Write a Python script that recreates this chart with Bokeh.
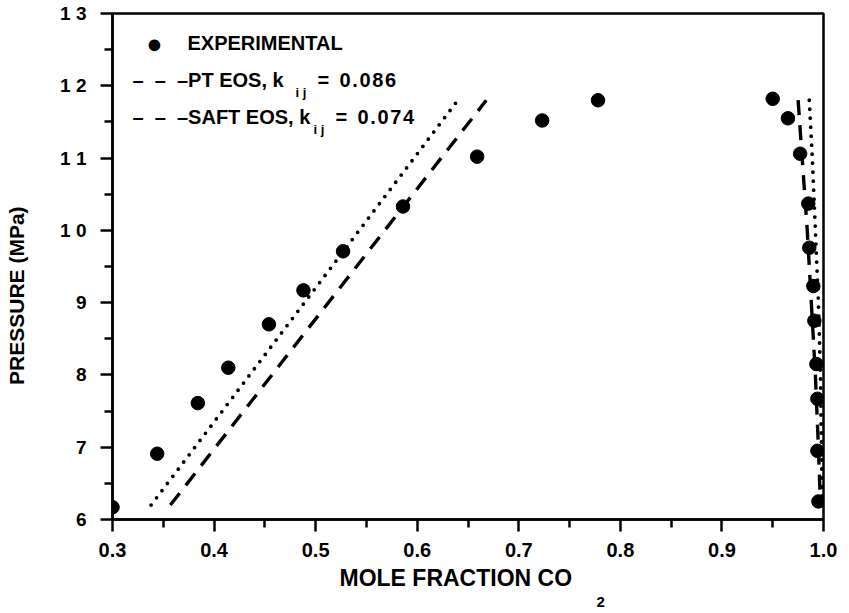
from bokeh.plotting import figure
from bokeh.models import Range1d, FixedTicker, Label, Title
from bokeh.embed import file_html
from bokeh.resources import INLINE

# Experimental CO2 mole fraction vs pressure (MPa)
x_exp = [0.300, 0.344, 0.384, 0.414, 0.454, 0.488, 0.527, 0.586, 0.659, 0.723, 0.778,
         0.950, 0.965, 0.977, 0.985, 0.986, 0.990, 0.991, 0.993, 0.994, 0.994, 0.995]
y_exp = [6.17, 6.91, 7.61, 8.10, 8.70, 9.17, 9.71, 10.33, 11.02, 11.52, 11.80,
         11.82, 11.55, 11.06, 10.37, 9.76, 9.23, 8.75, 8.15, 7.67, 6.95, 6.25]

# PT EOS (kij = 0.086): liquid and vapour branches
pt_liq_x = [0.338, 0.640]
pt_liq_y = [6.2, 11.8]
pt_vap_x = [0.986, 0.989, 0.992, 0.995, 0.997, 0.998, 0.999]
pt_vap_y = [11.8, 11.0, 10.0, 9.0, 8.0, 7.0, 6.2]

# SAFT EOS (kij = 0.074): liquid and vapour branches
saft_liq_x = [0.357, 0.668]
saft_liq_y = [6.2, 11.8]
saft_vap_x = [0.975, 0.979, 0.984, 0.988, 0.992, 0.995, 0.997]
saft_vap_y = [11.8, 11.0, 10.0, 9.0, 8.0, 7.0, 6.2]

x_ticks = [0.3, 0.4, 0.5, 0.6, 0.7, 0.8, 0.9, 1.0]
x_tick_labels = ["0.3", "0.4", "0.5", "0.6", "0.7", "0.8", "0.9", "1.0"]
x_minor = [0.35, 0.45, 0.55, 0.65, 0.75, 0.85, 0.95]
y_ticks = [6, 7, 8, 9, 10, 11, 12, 13]
y_tick_labels = ["6", "7", "8", "9", "1 0", "1 1", "1 2", "1 3"]
y_minor = [6.5, 7.5, 8.5, 9.5, 10.5, 11.5, 12.5]

FONT = "Liberation Sans"
NBSP = "\u00a0"
HAIR = "\u200a"

p = figure(width=849, height=613, output_backend="svg", toolbar_location=None,
           x_range=Range1d(0.3, 1.0), y_range=Range1d(6, 13),
           min_border_left=112, min_border_right=26, min_border_top=13, min_border_bottom=94)
p.background_fill_color = "white"
p.border_fill_color = "white"
p.grid.visible = False
p.outline_line_color = "black"
p.outline_line_width = 2.5

for ax in (p.xaxis[0], p.yaxis[0]):
    ax.axis_line_width = 2.5
    ax.axis_line_color = "black"
    ax.major_tick_line_width = 2.5
    ax.minor_tick_line_width = 2.5
    ax.major_tick_in = 0
    ax.major_tick_out = 12
    ax.minor_tick_in = 0
    ax.minor_tick_out = 8
    ax.major_label_text_font = FONT
    ax.major_label_text_font_style = "bold"
    ax.major_label_text_color = "black"
    ax.axis_label_text_font = FONT
    ax.axis_label_text_font_style = "bold"
    ax.axis_label_text_color = "black"

p.xaxis[0].ticker = FixedTicker(ticks=x_ticks, minor_ticks=x_minor)
p.xaxis[0].major_label_overrides = dict(zip(x_ticks, x_tick_labels))
p.xaxis[0].major_label_text_font_size = "20px"
p.xaxis[0].major_label_standoff = 11

p.yaxis[0].ticker = FixedTicker(ticks=y_ticks, minor_ticks=y_minor)
p.yaxis[0].major_label_overrides = dict(zip(y_ticks, y_tick_labels))
p.yaxis[0].major_label_text_font_size = "19px"
p.yaxis[0].major_label_standoff = 14
p.yaxis[0].axis_label = "PRESSURE (MPa)" + NBSP * 10
p.yaxis[0].axis_label_text_font_size = "21px"
p.yaxis[0].axis_label_standoff = 29

# x axis title and the subscript "2" of CO2, stacked below the axis
x_title = Title(text="MOLE FRACTION CO", align="left", offset=227, text_font=FONT,
                text_font_style="bold", text_font_size="23px", text_color="black", standoff=7)
p.add_layout(x_title, "below")
sub = Title(text="2", align="left", offset=484, text_font=FONT, text_font_style="bold",
            text_font_size="15px", text_color="black", standoff=0)
p.add_layout(sub, "below")

# model curves
p.line(pt_liq_x, pt_liq_y, line_color="black", line_width=3.8, line_dash="0 9", line_cap="round")
p.line(pt_vap_x, pt_vap_y, line_color="black", line_width=3.8, line_dash="0 9", line_cap="round")
p.line(saft_liq_x, saft_liq_y, line_color="black", line_width=3.4, line_dash="15 10")
p.line(saft_vap_x, saft_vap_y, line_color="black", line_width=3.4, line_dash="15 10")

# experimental points
p.scatter(x_exp, y_exp, marker="circle", size=13.5, fill_color="black", line_color="black")


# hand-drawn key, placed in canvas pixels
def key_text(cx, cy, txt, size="20px", align="left"):
    p.add_layout(Label(x=cx - 112, y=520 - cy, x_units="screen", y_units="screen", text=txt,
                       text_font=FONT, text_font_style="bold", text_font_size=size,
                       text_align=align, text_baseline="middle", text_color="black"))


def spaced(s):
    return HAIR.join(s)


dashes = "\u2013" + NBSP * 2 + "\u2013" + NBSP * 2 + "\u2013"
key_text(154, 44, "\u25CF", size="27px", align="center")
key_text(187, 43, "EXPERIMENTAL")
key_text(132, 80, dashes + "PT EOS, k")
key_text(295, 93, "i j", size="13px")
key_text(317, 80, "=")
key_text(339, 80, spaced("0.086"))
key_text(132, 117, dashes + "SAFT EOS, k")
key_text(313, 130, "i j", size="13px")
key_text(335, 117, "=")
key_text(357, 117, spaced("0.074"))

open("out.html", "w").write(file_html(p, INLINE))
